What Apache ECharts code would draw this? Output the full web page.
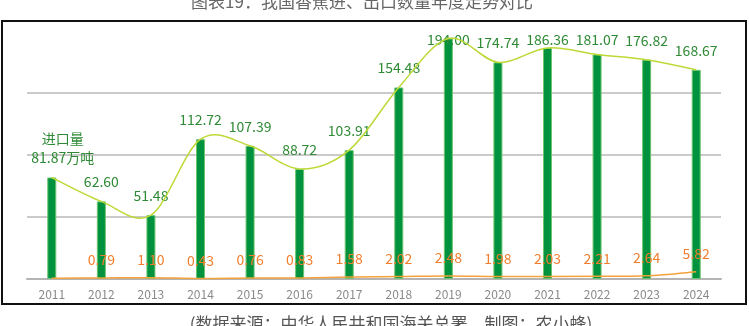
<!DOCTYPE html>
<html>
<head>
<meta charset="utf-8">
<script src="https://cdn.jsdelivr.net/npm/echarts@6/dist/echarts.min.js"></script>
<style>html,body{margin:0;padding:0;background:#fff;}#c{width:749px;height:326px;}</style>
</head>
<body>
<div id="c"></div>
<script>
var years = ['2011','2012','2013','2014','2015','2016','2017','2018','2019','2020','2021','2022','2023','2024'];
var importVol = [81.87, 62.60, 51.48, 112.72, 107.39, 88.72, 103.91, 154.48, 194.00, 174.74, 186.36, 181.07, 176.82, 168.67];
var exportVol = [0.6, 0.79, 1.10, 0.43, 0.76, 0.83, 1.58, 2.02, 2.48, 1.98, 2.03, 2.21, 2.64, 5.82];
var yTicks = [0, 50, 100, 150, 200];
var titleText = '图表19：我国香蕉进、出口数量年度走势对比';
var sourceText = '(数据来源：中华人民共和国海关总署，制图：农小蜂)';
var importName = '进口量';
var unitText = '万吨';

var FONT = '"Noto Sans CJK SC", "Noto Sans", sans-serif';

function splineSeries(values, color, z) {
  var n = values.length;
  return {
    type: 'custom', z: z, silent: true,
    data: values.map(function (v, i) { return [i, v]; }),
    encode: {x: 0, y: 1},
    renderItem: function (params, api) {
      var i = params.dataIndex;
      if (i >= n - 1) return null;
      var p0 = api.coord([Math.max(i - 1, 0), values[Math.max(i - 1, 0)]]);
      var p1 = api.coord([i, values[i]]);
      var p2 = api.coord([i + 1, values[i + 1]]);
      var p3 = api.coord([Math.min(i + 2, n - 1), values[Math.min(i + 2, n - 1)]]);
      return {
        type: 'bezierCurve',
        shape: {
          x1: p1[0], y1: p1[1], x2: p2[0], y2: p2[1],
          cpx1: p1[0] + (p2[0] - p0[0]) / 6, cpy1: p1[1] + (p2[1] - p0[1]) / 6,
          cpx2: p2[0] - (p3[0] - p1[0]) / 6, cpy2: p2[1] - (p3[1] - p1[1]) / 6
        },
        style: {stroke: color, fill: null, lineWidth: 1.5}
      };
    }
  };
}

var chart = echarts.init(document.getElementById('c'));
chart.setOption({
  animation: false,
  backgroundColor: '#fff',
  grid: {left: 27, right: 28, top: 31, bottom: 47},
  xAxis: {
    type: 'category', data: years, boundaryGap: true,
    axisLine: {show: true, lineStyle: {color: '#b4b4b4', width: 2}},
    axisTick: {show: false},
    axisLabel: {color: '#8a8a8a', fontSize: 12, margin: 9, fontFamily: FONT}
  },
  yAxis: {
    type: 'value', min: yTicks[0], max: yTicks[yTicks.length-1], interval: yTicks[1]-yTicks[0],
    axisLine: {show: false}, axisTick: {show: false}, axisLabel: {show: false},
    splitLine: {show: true, showMinLine: false, showMaxLine: false, lineStyle: {color: '#b8b8b8', width: 1.5}}
  },
  graphic: [
    {type: 'rect', shape: {x: 2, y: 21, width: 744, height: 283}, style: {fill: 'none', stroke: '#111', lineWidth: 2}, z: 100},
    {type: 'text', x: 362, y: 2, style: {text: titleText, fill: '#666', fontSize: 17, fontFamily: FONT, textAlign: 'center', textVerticalAlign: 'middle'}},
    {type: 'text', x: 391, y: 324, style: {text: sourceText, fill: '#555', fontSize: 17, fontFamily: FONT, textAlign: 'center', textVerticalAlign: 'middle'}}
  ],
  series: [
    {
      type: 'bar', name: importName, data: importVol, barWidth: 9, z: 2,
      itemStyle: {color: '#00923f', borderColor: '#6cc46c', borderWidth: 1},
      label: {
        show: true, position: 'top', distance: 10, color: '#2f8a35', fontSize: 14, lineHeight: 19, fontFamily: FONT,
        formatter: function (p) { return p.dataIndex === 0 ? importName + '\n' + p.value.toFixed(2) + unitText : p.value.toFixed(2); }
      },
      labelLayout: function (p) {
        var cx = p.rect.x + p.rect.width / 2;
        var bottom = p.rect.y - 10;
        if (bottom < 49) bottom = 49;
        if (p.dataIndex === 0) cx += 11;
        return {x: cx, y: bottom, align: 'center', verticalAlign: 'bottom'};
      }
    },
    splineSeries(importVol, '#bcd936', 3),
    splineSeries(exportVol, '#f4a23c', 3),
    {
      type: 'line', data: exportVol, symbol: 'circle', symbolSize: 1, showSymbol: true, z: 5,
      itemStyle: {color: 'rgba(0,0,0,0)'},
      lineStyle: {opacity: 0},
      label: {
        show: true, position: 'top', distance: 8, color: '#f07e2e', fontSize: 14, lineHeight: 19, fontFamily: FONT,
        formatter: function (p) { return p.dataIndex === 0 ? '' : p.value.toFixed(2); }
      }
    }
  ]
});
</script>
</body>
</html>
